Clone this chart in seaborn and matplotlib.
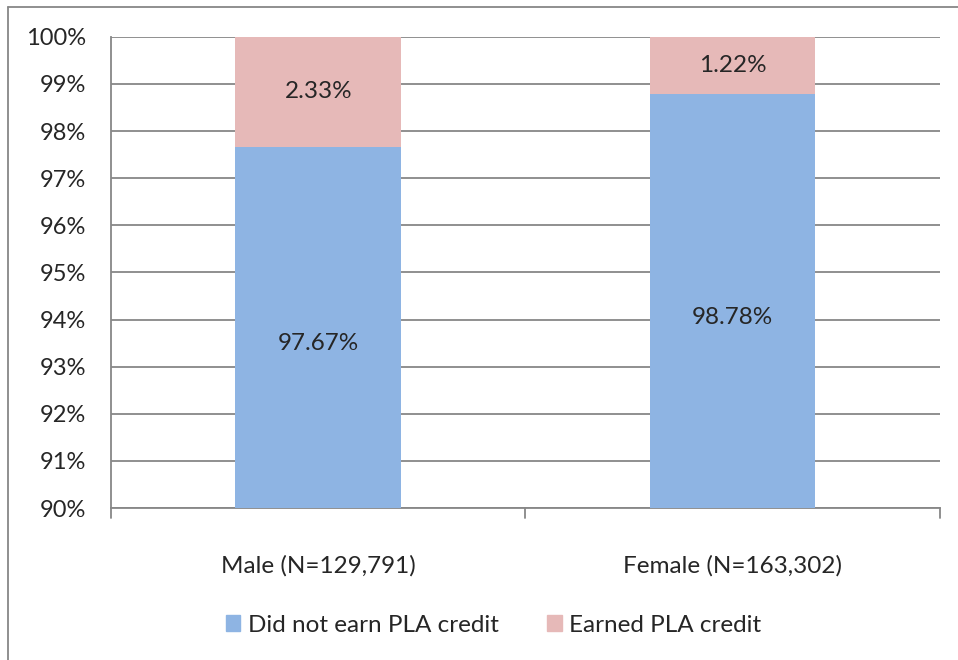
import matplotlib
matplotlib.use("Agg")
import matplotlib.pyplot as plt
import seaborn as sns
import pandas as pd
from matplotlib.lines import Line2D
from matplotlib.patches import Patch

# -------- DATA --------
groups = ["Male (N=129,791)", "Female (N=163,302)"]
did_not_earn = [97.67, 98.78]
earned = [2.33, 1.22]
series_names = ["Did not earn PLA credit", "Earned PLA credit"]
# ----------------------

BLUE = "#8EB4E3"
PINK = "#E6B9B8"
GRAY = "#878787"
FS = 17.5

sns.set_style("white")
plt.rcParams["font.family"] = ["Lato", "DejaVu Sans"]

df = pd.DataFrame({"group": groups, "no": did_not_earn, "yes": earned})
df["total"] = df["no"] + df["yes"]

fig = plt.figure(figsize=(9.58, 6.6), dpi=100)
ax = fig.add_axes([0.116, 0.2303, 0.865, 0.714])

# stacked bars: full-height pink, blue drawn over it
sns.barplot(data=df, x="group", y="total", color=PINK, width=0.4,
            saturation=1, linewidth=0, ax=ax, zorder=3)
sns.barplot(data=df, x="group", y="no", color=BLUE, width=0.4,
            saturation=1, linewidth=0, ax=ax, zorder=3)

ymin, ymax = 90, 100
ax.set_ylim(ymin, ymax)
ax.set_xlim(-0.5, 1.5)
ax.set_yticks(range(90, 101))
ax.set_yticklabels([f"{v}%" for v in range(90, 101)], fontsize=17)
ax.set_xticks([0, 1])
ax.set_xticklabels(groups, fontsize=FS)
ax.set_xlabel("")
ax.set_ylabel("")
ax.yaxis.grid(True, color=GRAY, linewidth=1.3, zorder=0)
ax.set_axisbelow(True)

for s in ["top", "right"]:
    ax.spines[s].set_visible(False)
for s in ["left", "bottom"]:
    ax.spines[s].set_color(GRAY)
    ax.spines[s].set_linewidth(1.3)

ax.tick_params(axis="y", length=6, color=GRAY, width=1.3, pad=12)
ax.tick_params(axis="x", length=0, pad=34)
# category boundary ticks on the x axis
for xb in [-0.5, 0.5, 1.5]:
    ax.plot([xb, xb], [0, -0.022], transform=ax.get_xaxis_transform(),
            color=GRAY, linewidth=1.3, clip_on=False)

for i in range(len(groups)):
    ax.text(i, (ymin + did_not_earn[i]) / 2 - 0.35, f"{did_not_earn[i]:.2f}%",
            ha="center", va="center", fontsize=FS, zorder=5)
    ax.text(i, did_not_earn[i] + earned[i] / 2, f"{earned[i]:.2f}%",
            ha="center", va="center", fontsize=FS, zorder=5)

handles = [Patch(color=BLUE), Patch(color=PINK)]
fig.legend(handles, series_names, loc="center", bbox_to_anchor=(0.515, 0.053),
           ncol=2, frameon=False, fontsize=FS, handlelength=0.6,
           handleheight=0.6, handletextpad=0.3, columnspacing=2.0)

# outer chart frame
fig.add_artist(Line2D([8 / 958, 8 / 958], [0, 1 - 7 / 660], color=GRAY, linewidth=1.3))
fig.add_artist(Line2D([8 / 958, 1], [1 - 7 / 660, 1 - 7 / 660], color=GRAY, linewidth=1.3))

fig.savefig("out.png", dpi=100)
